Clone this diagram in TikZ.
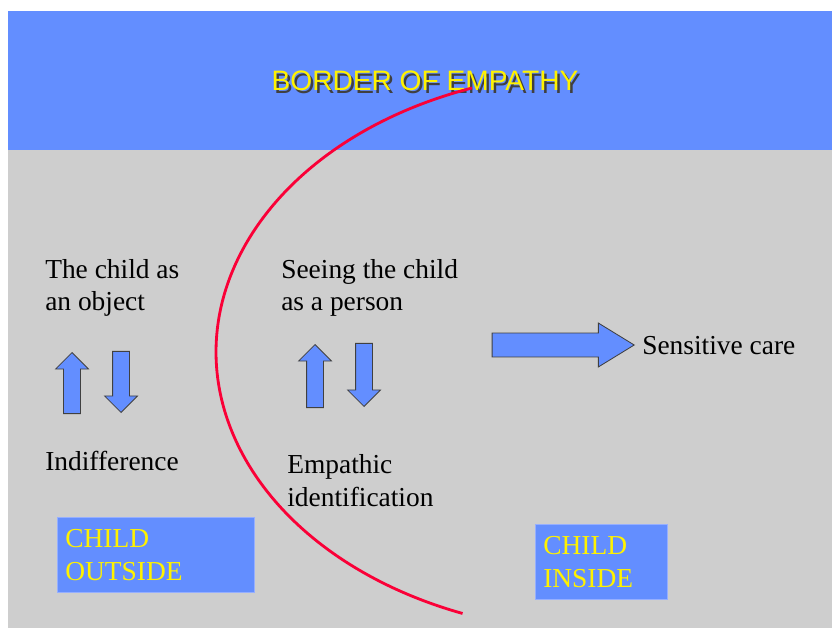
\documentclass[tikz,border=0pt]{standalone}
\usepackage{fontspec}
\setmainfont{Liberation Serif}
\newfontfamily\headfont{Liberation Sans}
\usepackage{tikz}
\usetikzlibrary{shapes.arrows}
\definecolor{slideblue}{RGB}{99,142,255}
\definecolor{slidegray}{RGB}{206,206,206}
\definecolor{borderred}{RGB}{250,0,55}
\definecolor{boxedge}{RGB}{150,175,255}
\tikzstyle{caption}=[font=\fontsize{19.5}{23.4}\selectfont, anchor=base west, inner sep=0pt, align=left]
\tikzstyle{fatarrow}=[single arrow, draw=black!75, fill=slideblue, line width=0.6pt, inner sep=0.2cm, minimum width=0.8cm, single arrow head extend=0.2cm, anchor=tip]
\tikzstyle{childbox}=[rectangle, draw=boxedge, fill=slideblue, text=yellow, anchor=north west, align=left, inner xsep=0.2cm, inner ysep=0.3cm, font=\fontsize{19.5}{23.4}\selectfont]
\tikzstyle{border}=[draw=borderred, line width=2pt]
\tikzset{headline/.style={font=\headfont\fontsize{20}{24}\selectfont}}

\begin{document}
\begin{tikzpicture}[x=0.025cm, y=-0.025cm]

 \useasboundingbox (0,0) rectangle (832,628);

 %slide
 \fill[slidegray] (8,150) rectangle (832,628);
 \fill[slideblue] (8,11) rectangle (832,150);

 \node[headline, text=black!75] (titleshadow) at (427.5,83.5) {BORDER OF EMPATHY};
 \node[headline, text=yellow] (title) at (425,81) {BORDER OF EMPATHY};

 %texts (y = baseline of last line)
 \foreach \x/\y/\name/\label in {45/311/object/{The child as\\an object}, 281/311/person/{Seeing the child\\as a person}, 642/354/care/{Sensitive care}, 45/470/indiff/{Indifference}, 287/506/empath/{Empathic\\identification}}
          \node[caption] (\name) at (\x,\y) {\label};

 %arrows
 \foreach \x/\y/\name/\rot/\len in {72/352/upL/90/1.525, 121/413/downL/270/1.525, 315/344/upM/90/1.575, 364/407/downM/270/1.575}
          \node[fatarrow, shape border rotate=\rot, minimum height=\len cm] (\name) at (\x,\y) {};

 \node[fatarrow, inner sep=0.2875cm, minimum width=1.075cm, single arrow head extend=0.25cm, single arrow tip angle=63, minimum height=3.55cm] (toCare) at (635,345) {};

 %boxes
 \node[childbox, text width=4.525cm] (outside) at (57,517) {CHILD\\OUTSIDE};
 \node[childbox, text width=2.9cm] (inside) at (535,524) {CHILD\\INSIDE};

 %border
 \draw[border] (472,88) arc[start angle=109.5, end angle=249, x radius=9.6cm, y radius=7cm];

\end{tikzpicture}
\end{document}
